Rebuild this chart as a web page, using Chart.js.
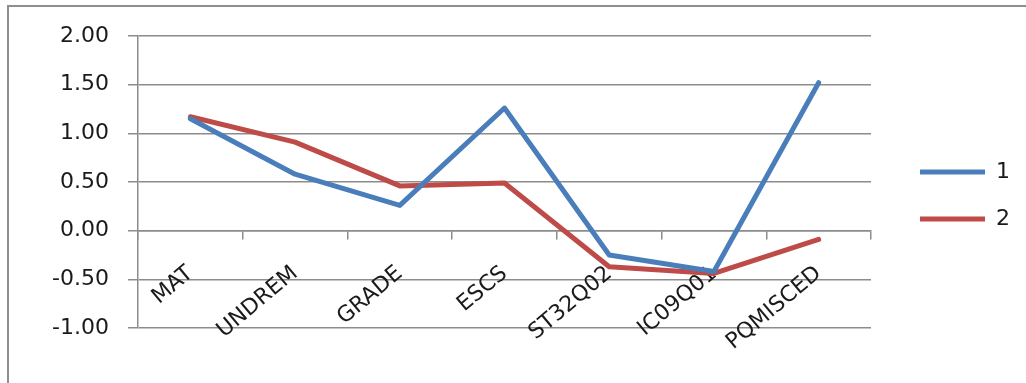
<!DOCTYPE html>
<html>
<head>
<meta charset="utf-8">
<script src="https://cdn.jsdelivr.net/npm/chart.js@4/dist/chart.umd.min.js"></script>
<style>
  html, body { margin: 0; padding: 0; background: #fff; overflow: hidden; }
  #wrap { position: relative; width: 1026px; height: 383px; overflow: hidden; }
  /* outer frame: only its top and left edges fall inside the page */
  #frame { position: absolute; left: 7px; top: 5px; width: 2000px; height: 2000px;
           border-left: 2px solid #8e8e8e; border-top: 2px solid #8e8e8e; }
  #chart { position: absolute; left: 0; top: 0; }
</style>
</head>
<body>
<div id="wrap">
  <div id="frame"></div>
  <canvas id="chart" width="1026" height="383"></canvas>
</div>
<script>
// Variables on the category axis
const categories = ['MAT', 'UNDREM', 'GRADE', 'ESCS', 'ST32Q02', 'IC09Q01', 'PQMISCED'];

// Series values
const series1 = [1.15, 0.58, 0.26, 1.26, -0.25, -0.42, 1.52];
const series2 = [1.17, 0.91, 0.46, 0.49, -0.37, -0.44, -0.09];

const seriesNames = ['1', '2'];

// Value axis range
const yMin = -1.0;
const yMax = 2.0;
const yStep = 0.5;

const FONT = 'DejaVu Sans';
const GRID = '#8c8c8c';

// Place the legend list to the right of the plot
const legendPlacer = {
  id: 'legendPlacer',
  afterLayout(chart) {
    const lg = chart.legend;
    if (!lg) return;
    const pad = lg.options.labels.padding;
    const w = lg.width, h = lg.height;
    lg.left = 920 - pad;
    lg.top = 172 - 11 - pad;
    lg.right = lg.left + w;
    lg.bottom = lg.top + h;
  }
};

new Chart(document.getElementById('chart'), {
  type: 'line',
  data: {
    labels: categories,
    datasets: [
      {
        label: seriesNames[0],
        data: series1,
        borderColor: '#4a7ebb',
        backgroundColor: '#4a7ebb',
        borderWidth: 5,
        borderCapStyle: 'round',
        borderJoinStyle: 'round',
        pointRadius: 0,
        tension: 0
      },
      {
        label: seriesNames[1],
        data: series2,
        borderColor: '#be4b48',
        backgroundColor: '#be4b48',
        borderWidth: 5,
        borderCapStyle: 'round',
        borderJoinStyle: 'round',
        pointRadius: 0,
        tension: 0
      }
    ]
  },
  options: {
    responsive: false,
    animation: false,
    devicePixelRatio: 1,
    layout: { padding: { left: 0, right: 155, top: 36, bottom: 55 } },
    plugins: {
      legend: {
        position: 'chartArea',
        align: 'start',
        labels: {
          usePointStyle: true,
          pointStyle: 'line',
          pointStyleWidth: 65,
          padding: 25,
          color: '#1a1a1a',
          font: { family: FONT, size: 22 }
        }
      },
      tooltip: { enabled: false }
    },
    scales: {
      x: {
        type: 'category',
        position: { y: 0 },
        offset: true,
        grid: {
          display: true,
          offset: true,
          drawOnChartArea: false,
          drawTicks: true,
          tickLength: 8,
          color: GRID,
          lineWidth: 1.5
        },
        border: { display: true, color: GRID, width: 1.5 },
        ticks: {
          autoSkip: false,
          minRotation: 40,
          maxRotation: 40,
          padding: 22,
          color: '#1a1a1a',
          font: { family: FONT, size: 22 }
        }
      },
      y: {
        min: yMin,
        max: yMax,
        afterFit(scale) { scale.width = 138; },
        grid: {
          color: GRID,
          lineWidth: 1.5,
          tickLength: 10,
          drawTicks: true
        },
        border: { display: true, color: GRID, width: 1.5 },
        ticks: {
          stepSize: yStep,
          padding: 19,
          color: '#1a1a1a',
          font: { family: FONT, size: 22 },
          callback: (v) => Number(v).toFixed(2)
        }
      }
    }
  },
  plugins: [legendPlacer]
});
</script>
</body>
</html>
